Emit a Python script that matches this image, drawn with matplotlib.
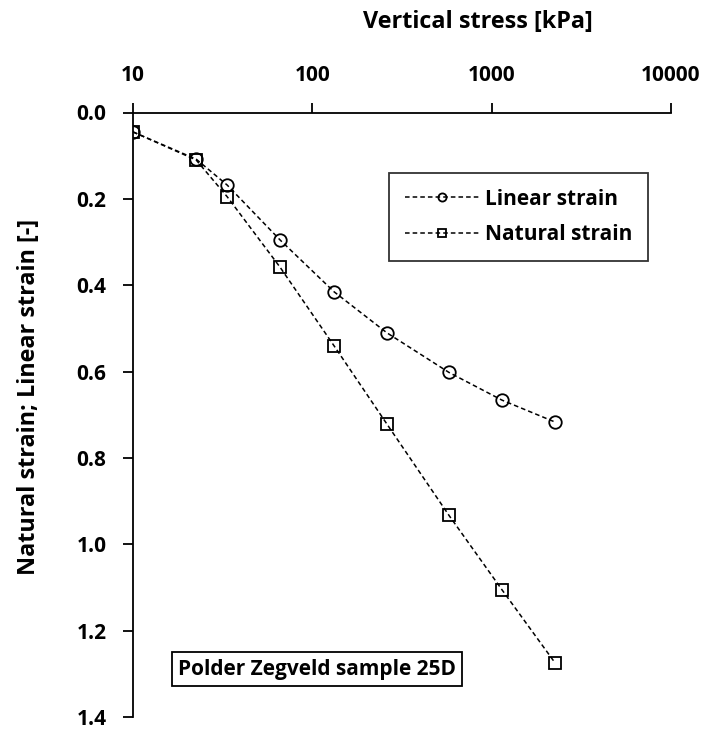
import numpy as np
import matplotlib.pyplot as plt
from matplotlib.ticker import FixedLocator, NullLocator

plt.rcParams['font.family'] = ['Open Sans', 'DejaVu Sans']
plt.rcParams['font.weight'] = 'bold'

# oedometer steps, sample 25D
stress = [10, 22.5, 33.5, 66, 132, 260, 578, 1140, 2260]
linear_strain = [0.045, 0.108, 0.168, 0.295, 0.415, 0.510, 0.602, 0.666, 0.717]
natural_strain = [0.045, 0.110, 0.195, 0.358, 0.540, 0.721, 0.933, 1.105, 1.275]
x_ticks = [10, 100, 1000, 10000]
y_ticks = [0.0, 0.2, 0.4, 0.6, 0.8, 1.0, 1.2, 1.4]

fig = plt.figure(figsize=(7.05, 7.29), dpi=100)
ax = fig.add_axes([133 / 705, 1 - 717 / 729, 538 / 705, 604.5 / 729])

line_kw = dict(color='black', lw=1.1, dashes=(3, 2), mfc='none', mec='black',
               mew=1.3, ms=9)
ax.plot(stress, linear_strain, marker='o', label='Linear strain', **line_kw)
ax.plot(stress, natural_strain, marker='s', label='Natural strain', **line_kw)

ax.set_xscale('log')
ax.set_xlim(10, 10000)
ax.set_ylim(1.4, 0)
ax.xaxis.set_major_locator(FixedLocator(x_ticks))
ax.xaxis.set_minor_locator(NullLocator())
ax.set_xticklabels([str(t) for t in x_ticks])
ax.set_yticks(y_ticks)
ax.set_yticklabels([f'{t:.1f}' for t in y_ticks])
ax.xaxis.tick_top()

for s in ['right', 'bottom']:
    ax.spines[s].set_visible(False)
for s in ['left', 'top']:
    ax.spines[s].set_linewidth(1.3)

fs = 15
ax.tick_params(axis='x', which='major', direction='out', length=7, width=1.3,
               pad=12, labelsize=fs)
ax.tick_params(axis='y', which='major', direction='out', length=7, width=1.3,
               pad=12, labelsize=fs)

fig.text(478 / 705, 1 - 22 / 729, 'Vertical stress [kPa]', ha='center',
         va='center', fontsize=16.8, fontweight='bold')
fig.text(29 / 705, 1 - 397 / 729, 'Natural strain; Linear strain [-]',
         ha='center', va='center', rotation=90, fontsize=16.8, fontweight='bold')

leg = ax.legend(loc='upper left', bbox_to_anchor=((389 - 133) / 538, 1 - (173 - 112.5) / 604.5),
                frameon=True, fancybox=False, fontsize=fs, markerscale=0.65,
                handlelength=3.6, handletextpad=0.25, labelspacing=0.7,
                borderpad=0.75, borderaxespad=0)
leg.get_frame().set_edgecolor('black')
leg.get_frame().set_linewidth(1.3)

ax.text((317 - 133) / 538, 1 - (669 - 112.5) / 604.5, 'Polder Zegveld sample 25D',
        transform=ax.transAxes, ha='center', va='center', fontsize=fs,
        fontweight='bold',
        bbox=dict(boxstyle='square,pad=0.3', fc='white', ec='black', lw=1.3))

fig.savefig('out.png', dpi=100)
